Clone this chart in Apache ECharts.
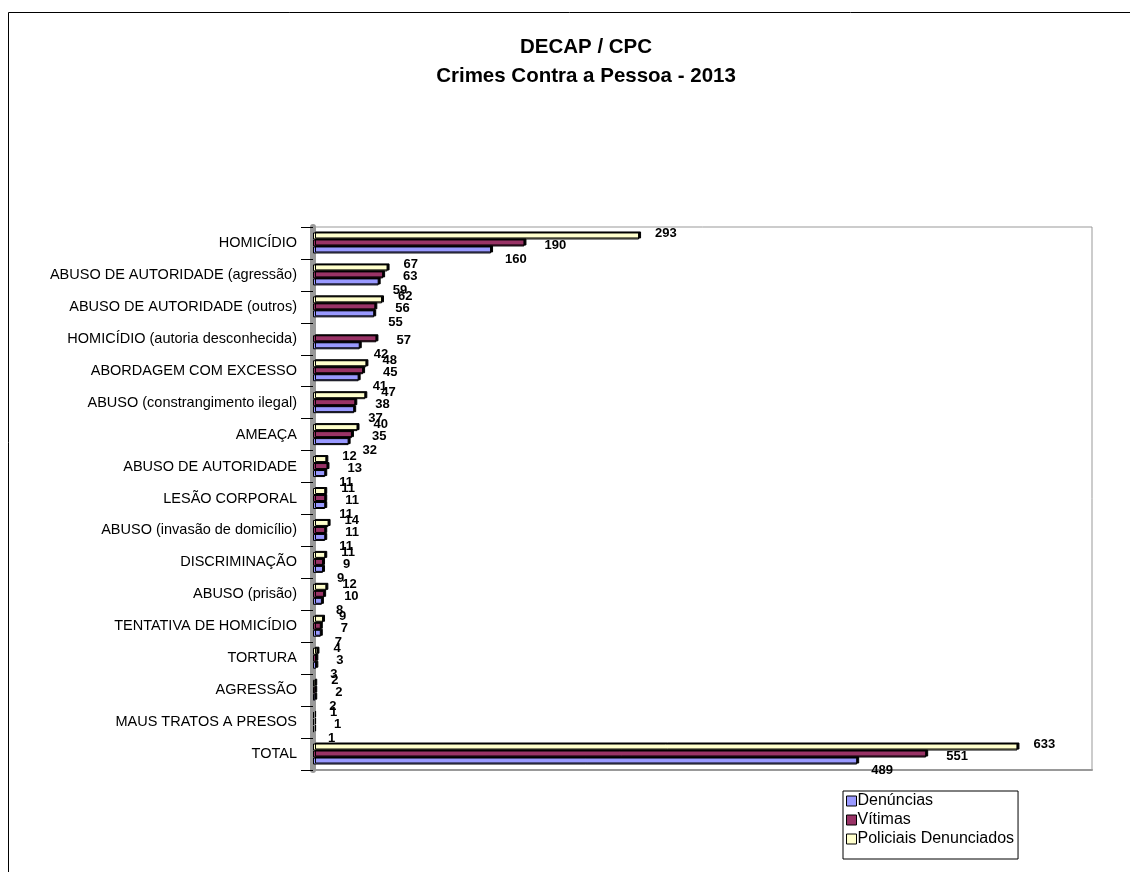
<!DOCTYPE html>
<html><head><meta charset="utf-8">
<script src="https://cdn.jsdelivr.net/npm/echarts@6/dist/echarts.min.js"></script>
<style>html,body{margin:0;padding:0;background:#fff}#c{width:1130px;height:872px}</style>
</head><body><div id="c"></div>
<script>
const categories = ["HOMICÍDIO","ABUSO DE AUTORIDADE (agressão)","ABUSO DE AUTORIDADE (outros)","HOMICÍDIO (autoria desconhecida)","ABORDAGEM COM EXCESSO","ABUSO (constrangimento ilegal)","AMEAÇA","ABUSO DE AUTORIDADE","LESÃO CORPORAL","ABUSO (invasão de domicílio)","DISCRIMINAÇÃO","ABUSO (prisão)","TENTATIVA DE HOMICÍDIO","TORTURA","AGRESSÃO","MAUS TRATOS A PRESOS","TOTAL"];
const denuncias = [160,59,55,42,41,37,32,11,11,11,9,8,7,3,2,1,489];
const vitimas = [190,63,56,57,45,38,35,13,11,11,9,10,7,3,2,1,551];
const policiais = [293,67,62,null,48,47,40,12,11,14,11,12,9,4,2,1,633];
const seriesNames = ["Denúncias","Vítimas","Policiais Denunciados"];

const rev = a => a.slice().reverse();
const chart = echarts.init(document.getElementById('c'));
const font = 'Liberation Sans, Arial, sans-serif';
function mk(name, data, color, off) {
  return {
    name, type: 'bar', data: rev(data), barWidth: 7, barGap: '0%',
    itemStyle: {color, borderColor: '#000', borderWidth: 1, shadowColor: '#000', shadowBlur: 0, shadowOffsetX: 2, shadowOffsetY: -1},
    label: {show: true, position: 'right', offset: off, color: '#000', fontWeight: 'bold', fontSize: 13, fontFamily: font},
    emphasis: {disabled: true}
  };
}
chart.setOption({
  animation: false,
  title: {
    text: 'DECAP / CPC\nCrimes Contra a Pessoa - 2013',
    left: 581, top: 28, textAlign: 'center',
    textStyle: {fontFamily: font, fontWeight: 'bold', fontSize: 20.5, lineHeight: 29, color: '#000'}
  },
  legend: {
    orient: 'vertical', left: 843, top: 791,
    padding: [2, 4, 12, 3], itemGap: 3, itemWidth: 10, itemHeight: 10,
    borderColor: '#000', borderWidth: 1, backgroundColor: '#fff',
    icon: 'rect', itemStyle: {borderColor: '#000', borderWidth: 1},
    textStyle: {fontFamily: font, fontSize: 16, color: '#000', padding: [0,0,0,-4]},
    data: seriesNames
  },
  grid: {left: 313, right: 38, top: 227, bottom: 102, show: true, borderColor: '#999', borderWidth: 1, containLabel: false},
  xAxis: {type: 'value', min: 0, max: 700, axisLabel: {show: false}, splitLine: {show: false}, axisTick: {show: false},
    axisLine: {show: true, lineStyle: {color: '#999', width: 2}}},
  yAxis: {type: 'category', data: rev(categories),
    axisLine: {show: true, lineStyle: {color: '#999', width: 6}},
    axisTick: {show: true, length: 12, lineStyle: {color: '#000'}},
    axisLabel: {color: '#000', fontFamily: font, fontSize: 14.5, margin: 16}},
  series: [
    mk(seriesNames[2], policiais, '#FFFFCC', [11, -3]),
    mk(seriesNames[1], vitimas, '#993366', [15, 2]),
    mk(seriesNames[0], denuncias, '#9999FF', [9, 9])
  ],
  graphic: [{type: 'rect', shape: {x: 8.5, y: 12.5, width: 1130, height: 880}, style: {fill: 'none', stroke: '#000', lineWidth: 1}, silent: true}]
});
</script></body></html>
